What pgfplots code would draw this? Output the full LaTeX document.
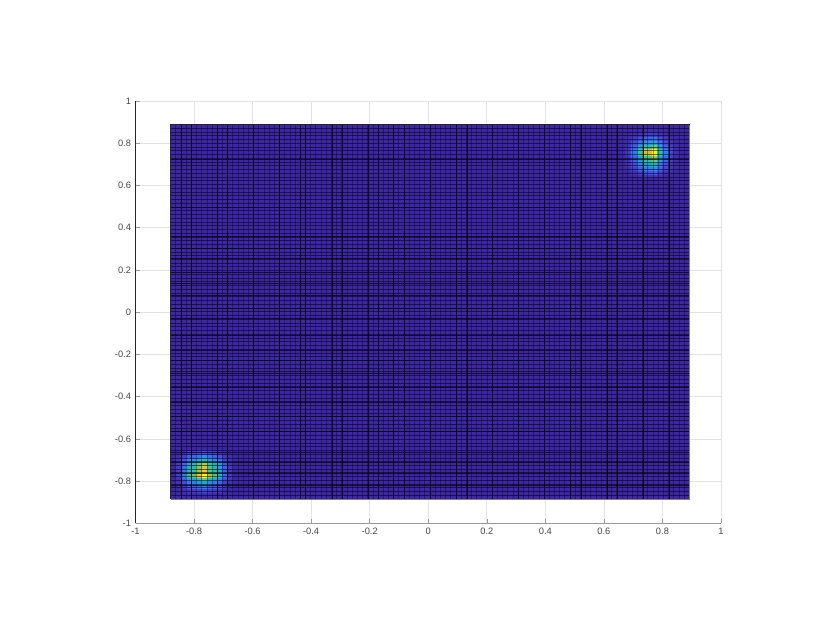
\documentclass[border=0pt]{standalone}
\usepackage{fontspec}
\setmainfont{Liberation Sans}
\usepackage{pgfplots}
\pgfplotsset{compat=1.18}
\definecolor{tickgray}{gray}{0.27}
\definecolor{gridgray}{gray}{0.89}
\begin{document}
\begin{tikzpicture}
\useasboundingbox (0,0) rectangle (830bp,642bp);
\begin{axis}[
  at={(135.5bp,118.5bp)}, anchor=south west,
  scale only axis, width=585.5bp, height=422.5bp,
  xmin=-1, xmax=1, ymin=-1, ymax=1,
  axis x line*=bottom, axis y line*=left,
  axis line style={-, line width=0.9bp},
  x axis line style={draw=gray!80},
  y axis line style={draw=black!85},
  xtick={-1,-0.8,-0.6,-0.4,-0.2,0,0.2,0.4,0.6,0.8,1},
  ytick={-1,-0.8,-0.6,-0.4,-0.2,0,0.2,0.4,0.6,0.8,1},
  xticklabels={-1,-0.8,-0.6,-0.4,-0.2,0,0.2,0.4,0.6,0.8,1},
  yticklabels={-1,-0.8,-0.6,-0.4,-0.2,0,0.2,0.4,0.6,0.8,1},
  tick align=inside, tick pos=left, major tick length=4bp,
  tick style={draw=gray!80, line width=0.6bp},
  tick label style={font=\fontsize{9.3bp}{11bp}\selectfont, text=tickgray},
  xticklabel style={yshift=-1bp}, yticklabel style={xshift=-1bp},
  grid=major, grid style={draw=gridgray, line width=0.8bp},
  colormap={parula}{rgb=(.2422,.1504,.6603) rgb=(.2810,.3228,.9579) rgb=(.1786,.5289,.9682) rgb=(.0689,.6948,.8394) rgb=(.2161,.7843,.5923) rgb=(.6720,.7793,.2227) rgb=(.9856,.7372,.2537) rgb=(.9763,.9831,.0538)},
  point meta min=0, point meta max=1,
]
% flat floor of the surface
\addplot[forget plot, draw=none, fill={rgb,1:red,.2422;green,.1504;blue,.6603}] coordinates {(-0.88,-0.885) (0.8925,-0.885) (0.8925,0.888) (-0.88,0.888)} -- cycle;
% lower left peak
\addplot[forget plot, matrix plot*, mesh/cols=11, point meta=explicit] table[row sep=\\, meta=c] {
x y c\\
-.8535 -.8762 0\\ -.8358 -.8762 0\\ -.8181 -.8762 .01\\ -.8004 -.8762 .01\\ -.7827 -.8762 .01\\ -.765 -.8762 .01\\ -.7473 -.8762 .01\\ -.7296 -.8762 .01\\ -.7119 -.8762 0\\ -.6942 -.8762 0\\ -.6765 -.8762 0\\
-.8535 -.8585 0\\ -.8358 -.8585 .01\\ -.8181 -.8585 .02\\ -.8004 -.8585 .02\\ -.7827 -.8585 .02\\ -.765 -.8585 .03\\ -.7473 -.8585 .02\\ -.7296 -.8585 .02\\ -.7119 -.8585 .01\\ -.6942 -.8585 .01\\ -.6765 -.8585 0\\
-.8535 -.8408 .01\\ -.8358 -.8408 .03\\ -.8181 -.8408 .06\\ -.8004 -.8408 .06\\ -.7827 -.8408 .08\\ -.765 -.8408 .10\\ -.7473 -.8408 .07\\ -.7296 -.8408 .06\\ -.7119 -.8408 .05\\ -.6942 -.8408 .02\\ -.6765 -.8408 .01\\
-.8535 -.8231 .02\\ -.8358 -.8231 .06\\ -.8181 -.8231 .14\\ -.8004 -.8231 .16\\ -.7827 -.8231 .21\\ -.765 -.8231 .25\\ -.7473 -.8231 .18\\ -.7296 -.8231 .15\\ -.7119 -.8231 .11\\ -.6942 -.8231 .05\\ -.6765 -.8231 .02\\
-.8535 -.8054 .03\\ -.8358 -.8054 .11\\ -.8181 -.8054 .23\\ -.8004 -.8054 .26\\ -.7827 -.8054 .34\\ -.765 -.8054 .42\\ -.7473 -.8054 .30\\ -.7296 -.8054 .25\\ -.7119 -.8054 .19\\ -.6942 -.8054 .08\\ -.6765 -.8054 .03\\
-.8535 -.7877 .05\\ -.8358 -.7877 .16\\ -.8181 -.7877 .36\\ -.8004 -.7877 .40\\ -.7827 -.7877 .53\\ -.765 -.7877 .65\\ -.7473 -.7877 .47\\ -.7296 -.7877 .39\\ -.7119 -.7877 .29\\ -.6942 -.7877 .13\\ -.6765 -.7877 .05\\
-.8535 -.77 .08\\ -.8358 -.77 .25\\ -.8181 -.77 .55\\ -.8004 -.77 .62\\ -.7827 -.77 .82\\ -.765 -.77 1.0\\ -.7473 -.77 .72\\ -.7296 -.77 .60\\ -.7119 -.77 .45\\ -.6942 -.77 .20\\ -.6765 -.77 .07\\
-.8535 -.7523 .07\\ -.8358 -.7523 .21\\ -.8181 -.7523 .47\\ -.8004 -.7523 .53\\ -.7827 -.7523 .70\\ -.765 -.7523 .85\\ -.7473 -.7523 .61\\ -.7296 -.7523 .51\\ -.7119 -.7523 .38\\ -.6942 -.7523 .17\\ -.6765 -.7523 .06\\
-.8535 -.7346 .06\\ -.8358 -.7346 .20\\ -.8181 -.7346 .44\\ -.8004 -.7346 .50\\ -.7827 -.7346 .66\\ -.765 -.7346 .80\\ -.7473 -.7346 .58\\ -.7296 -.7346 .48\\ -.7119 -.7346 .36\\ -.6942 -.7346 .16\\ -.6765 -.7346 .06\\
-.8535 -.7169 .06\\ -.8358 -.7169 .19\\ -.8181 -.7169 .41\\ -.8004 -.7169 .47\\ -.7827 -.7169 .62\\ -.765 -.7169 .75\\ -.7473 -.7169 .54\\ -.7296 -.7169 .45\\ -.7119 -.7169 .34\\ -.6942 -.7169 .15\\ -.6765 -.7169 .05\\
-.8535 -.6992 .04\\ -.8358 -.6992 .13\\ -.8181 -.6992 .28\\ -.8004 -.6992 .31\\ -.7827 -.6992 .41\\ -.765 -.6992 .50\\ -.7473 -.6992 .36\\ -.7296 -.6992 .30\\ -.7119 -.6992 .23\\ -.6942 -.6992 .10\\ -.6765 -.6992 .04\\
-.8535 -.6815 .02\\ -.8358 -.6815 .08\\ -.8181 -.6815 .17\\ -.8004 -.6815 .19\\ -.7827 -.6815 .25\\ -.765 -.6815 .30\\ -.7473 -.6815 .22\\ -.7296 -.6815 .18\\ -.7119 -.6815 .14\\ -.6942 -.6815 .06\\ -.6765 -.6815 .02\\
-.8535 -.6638 .01\\ -.8358 -.6638 .03\\ -.8181 -.6638 .07\\ -.8004 -.6638 .07\\ -.7827 -.6638 .10\\ -.765 -.6638 .12\\ -.7473 -.6638 .09\\ -.7296 -.6638 .07\\ -.7119 -.6638 .05\\ -.6942 -.6638 .02\\ -.6765 -.6638 .01\\
};
% upper right peak
\addplot[forget plot, matrix plot*, mesh/cols=11, point meta=explicit] table[row sep=\\, meta=c] {
x y c\\
.668 .6461 0\\ .6857 .6461 0\\ .7034 .6461 .01\\ .7211 .6461 .03\\ .7388 .6461 .04\\ .7565 .6461 .04\\ .7742 .6461 .05\\ .7919 .6461 .03\\ .8096 .6461 .01\\ .8273 .6461 .01\\ .845 .6461 0\\
.668 .6638 0\\ .6857 .6638 .01\\ .7034 .6638 .04\\ .7211 .6638 .09\\ .7388 .6638 .13\\ .7565 .6638 .13\\ .7742 .6638 .16\\ .7919 .6638 .09\\ .8096 .6638 .04\\ .8273 .6638 .02\\ .845 .6638 0\\
.668 .6815 .01\\ .6857 .6815 .03\\ .7034 .6815 .08\\ .7211 .6815 .18\\ .7388 .6815 .26\\ .7565 .6815 .26\\ .7742 .6815 .32\\ .7919 .6815 .18\\ .8096 .6815 .09\\ .8273 .6815 .04\\ .845 .6815 .01\\
.668 .6992 .01\\ .6857 .6992 .04\\ .7034 .6992 .12\\ .7211 .6992 .26\\ .7388 .6992 .38\\ .7565 .6992 .39\\ .7742 .6992 .48\\ .7919 .6992 .26\\ .8096 .6992 .13\\ .8273 .6992 .06\\ .845 .6992 .01\\
.668 .7169 .01\\ .6857 .7169 .05\\ .7034 .7169 .16\\ .7211 .7169 .36\\ .7388 .7169 .52\\ .7565 .7169 .53\\ .7742 .7169 .65\\ .7919 .7169 .36\\ .8096 .7169 .18\\ .8273 .7169 .08\\ .845 .7169 .02\\
.668 .7346 .01\\ .6857 .7346 .06\\ .7034 .7346 .18\\ .7211 .7346 .40\\ .7388 .7346 .58\\ .7565 .7346 .59\\ .7742 .7346 .72\\ .7919 .7346 .40\\ .8096 .7346 .20\\ .8273 .7346 .09\\ .845 .7346 .02\\
.668 .7523 .02\\ .6857 .7523 .08\\ .7034 .7523 .24\\ .7211 .7523 .52\\ .7388 .7523 .76\\ .7565 .7523 .78\\ .7742 .7523 .98\\ .7919 .7523 .52\\ .8096 .7523 .27\\ .8273 .7523 .11\\ .845 .7523 .03\\
.668 .77 .02\\ .6857 .77 .08\\ .7034 .77 .25\\ .7211 .77 .55\\ .7388 .77 .80\\ .7565 .77 .82\\ .7742 .77 1.0\\ .7919 .77 .55\\ .8096 .77 .28\\ .8273 .77 .12\\ .845 .77 .03\\
.668 .7877 .01\\ .6857 .7877 .05\\ .7034 .7877 .16\\ .7211 .7877 .36\\ .7388 .7877 .52\\ .7565 .7877 .53\\ .7742 .7877 .65\\ .7919 .7877 .36\\ .8096 .7877 .18\\ .8273 .7877 .08\\ .845 .7877 .02\\
.668 .8054 .01\\ .6857 .8054 .03\\ .7034 .8054 .11\\ .7211 .8054 .23\\ .7388 .8054 .34\\ .7565 .8054 .34\\ .7742 .8054 .42\\ .7919 .8054 .23\\ .8096 .8054 .12\\ .8273 .8054 .05\\ .845 .8054 .01\\
.668 .8231 0\\ .6857 .8231 .02\\ .7034 .8231 .06\\ .7211 .8231 .12\\ .7388 .8231 .18\\ .7565 .8231 .18\\ .7742 .8231 .22\\ .7919 .8231 .12\\ .8096 .8231 .06\\ .8273 .8231 .03\\ .845 .8231 .01\\
.668 .8408 0\\ .6857 .8408 .01\\ .7034 .8408 .02\\ .7211 .8408 .04\\ .7388 .8408 .06\\ .7565 .8408 .07\\ .7742 .8408 .08\\ .7919 .8408 .04\\ .8096 .8408 .02\\ .8273 .8408 .01\\ .845 .8408 0\\
.668 .8585 0\\ .6857 .8585 0\\ .7034 .8585 .01\\ .7211 .8585 .01\\ .7388 .8585 .02\\ .7565 .8585 .02\\ .7742 .8585 .02\\ .7919 .8585 .01\\ .8096 .8585 .01\\ .8273 .8585 0\\ .845 .8585 0\\
};
% fine mesh of the surface
\pgfplotsinvokeforeach{0,...,100}{
  \addplot[forget plot, no markers, draw=black, opacity=0.36, line width=0.85bp] coordinates {({-0.88+0.01772*#1},-0.885) ({-0.88+0.01772*#1},0.888)};
  \addplot[forget plot, no markers, draw=black, opacity=0.55, line width=1bp] coordinates {(-0.88,{-0.885+0.01773*#1}) (0.8925,{-0.885+0.01773*#1})};
}
% mesh lines that came out heavy
\pgfplotsinvokeforeach{-.8446,-.8104,-.7216,-.6874,-.5986,-.5098,-.4381,-.4210,-.3288,-.2946,-.2058,-.1716,-.1204,-.0828,.0060,.0948,.1324,.2178,.3066,.3954,.4842,.5218,.6106,.6448,.7336,.8224}{
  \addplot[forget plot, no markers, draw=black, opacity=0.85, line width=0.8bp] coordinates {(#1,-0.885) (#1,0.888)};
}
\pgfplotsinvokeforeach{.7231,.4959,.3586,.3018,.2544,.1882,.1361,.0793,.0178,-.0296,-.1101,-.1811,-.2284,-.2899,-.3562,-.4272,-.4935,-.5645,-.6639,-.7112,-.7633,-.8201}{
  \addplot[forget plot, no markers, draw=black, opacity=0.7, line width=0.7bp] coordinates {(-0.88,#1) (0.8925,#1)};
}
% outer edge of the surface
\addplot[forget plot, no markers, draw=black!85, line width=0.9bp] coordinates {(-0.88,-0.885) (-0.88,0.888) (0.8925,0.888)};
\addplot[forget plot, no markers, draw=gray, line width=1bp] coordinates {(-0.88,-0.885) (0.8925,-0.885) (0.8925,0.888)};
\end{axis}
\end{tikzpicture}
\end{document}
